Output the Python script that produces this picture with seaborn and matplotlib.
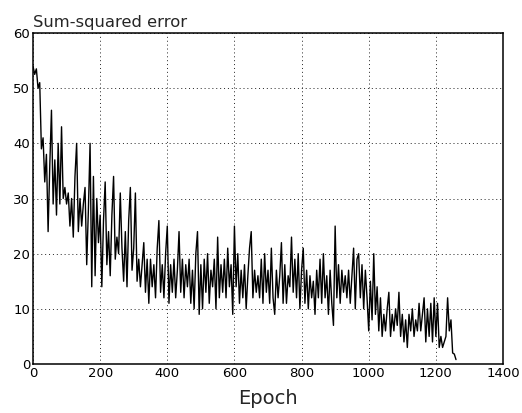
import numpy as np
import pandas as pd
import matplotlib
matplotlib.use('Agg')
import matplotlib.pyplot as plt
import seaborn as sns

# ── data: sum-squared error, every 5 epochs ──
epochs = list(range(0, 1265, 5))
sse = [
    54, 52.5, 53.5, 50, 51, 39, 41, 33, 38, 24,        # 0-45
    36, 46, 29, 37, 27, 40, 29, 43, 30, 32,            # 50-95
    29, 31, 25, 30, 23, 34, 40, 24, 30, 25,            # 100-145
    29, 32, 18, 28, 40, 14, 34, 16, 30, 22,            # 150-195
    27, 14, 26, 33, 18, 24, 16, 27, 34, 19,            # 200-245
    23, 20, 31, 21, 15, 24, 14, 26, 32, 17,            # 250-295
    21, 31, 15, 19, 14, 18, 22, 13, 19, 11,            # 300-345
    19, 14, 18, 12, 21, 26, 13, 18, 12, 20,            # 350-395
    25, 11, 18, 13, 19, 12, 17, 24, 13, 19,            # 400-445
    12, 18, 14, 19, 11, 17, 10, 20, 24, 9,             # 450-495
    18, 10, 19, 13, 20, 11, 17, 14, 19, 10,            # 500-545
    23, 12, 18, 13, 19, 12, 21, 14, 18, 9,             # 550-595
    25, 14, 20, 11, 17, 12, 18, 10, 16, 21,            # 600-645
    24, 12, 17, 13, 16, 12, 19, 11, 20, 13,            # 650-695
    17, 11, 21, 12, 9, 17, 12, 16, 22, 11,             # 700-745
    18, 11, 16, 14, 23, 13, 19, 12, 20, 10,            # 750-795
    17, 21, 11, 17, 10, 16, 12, 15, 9, 17,             # 800-845
    12, 19, 11, 20, 12, 16, 9, 17, 11, 7,              # 850-895
    25, 12, 18, 11, 17, 13, 16, 12, 17, 11,            # 900-945
    16, 21, 10, 19, 20, 12, 18, 10, 17, 12,            # 950-995
    6, 15, 8, 20, 9, 14, 6, 12, 5, 9,                  # 1000-1045
    6, 10, 13, 5, 9, 6, 10, 7, 13, 5,                  # 1050-1095
    9, 4, 8, 3, 9, 6, 10, 5, 8, 6,                     # 1100-1145
    11, 6, 9, 12, 4, 10, 5, 11, 4, 12,                 # 1150-1195
    5, 11, 3, 5, 3, 4, 5, 12, 6, 8, 2, 1.8, 0.8,       # 1200-1260
]
df = pd.DataFrame({'Epoch': epochs, 'SSE': sse})

x_ticks = [0, 200, 400, 600, 800, 1000, 1200, 1400]
y_ticks = [0, 10, 20, 30, 40, 50, 60]

sns.set_style('white')
plt.rcParams['font.family'] = ['DejaVu Sans']

fig = plt.figure(figsize=(5.22, 4.13), dpi=100)
ax = fig.add_axes([33/522, 1 - 364/413, 470/522, 331/413])

sns.lineplot(data=df, x='Epoch', y='SSE', color='black', lw=1.0, ax=ax)

ax.set_xlim(0, 1400)
ax.set_ylim(0, 60)
ax.set_xticks(x_ticks)
ax.set_yticks(y_ticks)
ax.grid(True, color='#222222', linestyle=(0, (1, 3)), lw=0.7)
ax.set_axisbelow(True)
for sp in ax.spines.values():
    sp.set_edgecolor('black')
    sp.set_linewidth(1.1)
ax.tick_params(direction='in', length=3, width=0.8, colors='black',
               labelsize=9.5, pad=2)

ax.set_xlabel('Epoch', fontsize=14, labelpad=7)
ax.set_ylabel('')
ax.set_title('Sum-squared error', loc='left', fontsize=11.8, pad=4.5)

plt.savefig('out.png', dpi=100, facecolor='white')
plt.close()
